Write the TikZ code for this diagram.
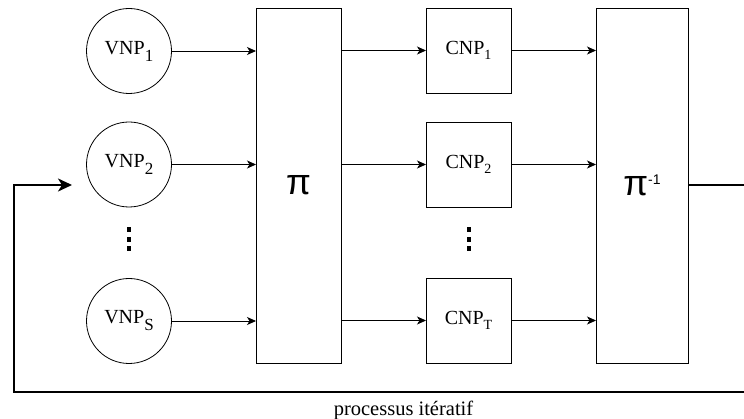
\documentclass[tikz,border=0pt]{standalone}
\usepackage{fontspec}
\setmainfont{Liberation Serif}
\newfontfamily\pifont{Liberation Sans}
\usetikzlibrary{arrows.meta}
\newcommand\vsub[1]{\raisebox{-7pt}{\fontsize{17}{17}\selectfont #1}}
\newcommand\csub[1]{\raisebox{-5pt}{\fontsize{14}{14}\selectfont #1}}
\begin{document}
\begin{tikzpicture}[x=1pt,y=-1pt,
  every node/.style={inner sep=0pt,outer sep=0pt},
  vnode/.style={draw,line width=0.8pt,circle,minimum size=85pt,font=\fontsize{20}{23}\selectfont},
  cnode/.style={draw,line width=0.8pt,rectangle,minimum width=85pt,minimum height=85pt,font=\fontsize{20}{23}\selectfont},
  bignode/.style={draw,line width=0.8pt,rectangle,minimum height=355pt,font=\pifont\fontsize{36}{38}\selectfont},
  conn/.style={line width=0.8pt,-{Stealth[length=9pt,width=8pt,inset=2.5pt]}},
  dotbox/.style={fill=black,minimum width=4.5pt,minimum height=5pt},
  fb/.style={line width=2pt,-{Stealth[length=14pt,width=13pt,inset=4pt]}}]
\useasboundingbox (0,0) rectangle (744,419);
% variable node processors
\node[vnode] (v1) at (129,51) {VNP\vsub{1}};
\node[vnode] (v2) at (129,164.5) {VNP\vsub{2}};
\node[vnode] (vS) at (129,321) {VNP\vsub{S}};
% interleaver
\node[bignode,minimum width=85pt] (pi) at (298.5,185.5) {π};
% check node processors
\node[cnode] (c1) at (468.5,50.5) {CNP\csub{1}};
\node[cnode] (c2) at (468.5,164.5) {CNP\csub{2}};
\node[cnode] (cT) at (468.5,320.5) {CNP\csub{T}};
% deinterleaver
\node[bignode,minimum width=92pt] (pinv) at (642,185.5) {π\raisebox{11pt}{\fontsize{14}{14}\selectfont -1}};
% ellipsis dots
\node[dotbox] (dva) at (129,230) {};
\node[dotbox] (dvb) at (129,239.5) {};
\node[dotbox] (dvc) at (129,249) {};
\node[dotbox] (dca) at (469,230) {};
\node[dotbox] (dcb) at (469,239.5) {};
\node[dotbox] (dcc) at (469,249) {};
% connectors
\draw[conn] (v1.east) -- (v1.east -| pi.west);
\draw[conn] (v2.east) -- (v2.east -| pi.west);
\draw[conn] (vS.east) -- (vS.east -| pi.west);
\draw[conn] (c1.west -| pi.east) -- (c1.west);
\draw[conn] (c2.west -| pi.east) -- (c2.west);
\draw[conn] (cT.west -| pi.east) -- (cT.west);
\draw[conn] (c1.east) -- (c1.east -| pinv.west);
\draw[conn] (c2.east) -- (c2.east -| pinv.west);
\draw[conn] (cT.east) -- (cT.east -| pinv.west);
% feedback loop
\coordinate (fbr) at (760,392);
\coordinate (fbl) at (14,392);
\coordinate (fbend) at (72,185);
\draw[fb] (pinv.east) -| (fbr) -- (fbl) |- (fbend);
\node[anchor=base,font=\fontsize{20.5}{23}\selectfont] (lbl) at (403.5,415) {processus itératif};
\end{tikzpicture}
\end{document}
